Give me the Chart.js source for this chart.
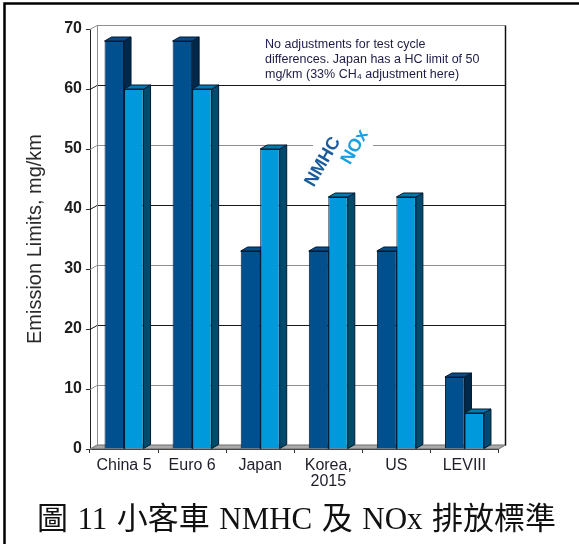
<!DOCTYPE html>
<html>
<head>
<meta charset="utf-8">
<script src="https://cdn.jsdelivr.net/npm/chart.js@4/dist/chart.umd.min.js"></script>
<style>
  html, body { margin: 0; padding: 0; background: #fff; }
  canvas { display: block; }
</style>
</head>
<body>
<canvas id="c" width="579" height="544"></canvas>
<script>
// Light-duty vehicle NMHC / NOx emission limits (mg/km)
const categories = ['China 5', 'Euro 6', 'Japan', ['Korea,', '2015'], 'US', 'LEVIII'];
const seriesNames = ['NMHC', 'NOx'];
const nmhcLimits = [68, 68, 33, 33, 33, 12];
const noxLimits = [60, 60, 50, 42, 42, 6];
const yTicks = [0, 10, 20, 30, 40, 50, 60, 70];
const axisTitle = 'Emission Limits, mg/km';
const noteLines = [
  'No adjustments for test cycle',
  'differences. Japan has a HC limit of 50',
  'mg/km (33% CH\u2084 adjustment here)'
];
const captionParts = ['圖', '11', '小客車', 'NMHC', '及', 'NOx', '排放標準'];

// face colours for the extruded columns: [front, top, side]
const faceColors = [
  ['#00508f', '#0a4a86', '#00284b'],
  ['#0099db', '#0078b4', '#004a6c']
];
const edgeColor = '#001a33';
const labelColors = ['#1d5c9c', '#1a9fe0'];

// depth of the 3-D box
const DX = 7, DY = -4;

const poly = (ctx, pts, fill, stroke) => {
  ctx.beginPath();
  ctx.moveTo(pts[0][0], pts[0][1]);
  for (let k = 1; k < pts.length; k++) ctx.lineTo(pts[k][0], pts[k][1]);
  ctx.closePath();
  ctx.fillStyle = fill;
  ctx.fill();
  if (stroke) { ctx.strokeStyle = stroke; ctx.lineWidth = 1; ctx.stroke(); }
};

const box3d = {
  id: 'box3d',
  beforeDatasetsDraw(chart) {
    const { ctx, chartArea: a, scales: { y } } = chart;
    ctx.save();
    // floor
    poly(ctx, [[a.left, a.bottom], [a.left + DX, a.bottom + DY], [a.right + DX, a.bottom + DY], [a.right, a.bottom]], '#a8a8a8', '#6a6a6a');
    // back wall grid lines and side wall diagonals
    yTicks.forEach(v => {
      const py = Math.round(y.getPixelForValue(v)) + 0.5;
      ctx.beginPath();
      ctx.moveTo(a.left, py);
      ctx.lineTo(a.left + DX, py + DY);
      ctx.lineTo(a.right + DX, py + DY);
      ctx.strokeStyle = (v % 20 === 0 && v > 0) ? '#1a1a1a' : '#8e8e8e';
      ctx.lineWidth = 1;
      ctx.stroke();
    });
    const yTop = Math.round(y.getPixelForValue(yTicks[yTicks.length - 1])) + 0.5 + DY;
    const yBot = Math.round(y.getPixelForValue(0)) + 0.5 + DY;
    ctx.beginPath();
    ctx.moveTo(a.left + DX + 0.5, yTop); ctx.lineTo(a.left + DX + 0.5, yBot);
    ctx.strokeStyle = '#8e8e8e'; ctx.stroke();
    ctx.beginPath();
    ctx.moveTo(a.right + DX, yTop); ctx.lineTo(a.right + DX, yBot);
    ctx.strokeStyle = '#111'; ctx.lineWidth = 1.5; ctx.stroke();

    // note text
    ctx.fillStyle = '#1c1c48';
    ctx.font = '12.5px "Liberation Sans", Arial, sans-serif';
    ctx.textAlign = 'left';
    ctx.textBaseline = 'alphabetic';
    noteLines.forEach((t, k) => ctx.fillText(t, 265, 48 + k * 15));

    // series labels, set on a white patch over the grid
    const y50 = Math.round(y.getPixelForValue(50)) + 0.5 + DY;
    ctx.fillStyle = '#fff';
    ctx.fillRect(313, y50 - 3, 60, 6);
    ctx.font = 'bold 18px "Liberation Sans", Arial, sans-serif';
    ctx.textAlign = 'center';
    ctx.textBaseline = 'middle';
    const spots = [[323, 162], [355, 147]];
    chart.data.datasets.forEach((ds, i) => {
      ctx.save();
      ctx.translate(spots[i][0], spots[i][1]);
      ctx.rotate(-60 * Math.PI / 180);
      ctx.fillStyle = labelColors[i];
      ctx.fillText(ds.label, 0, 0);
      ctx.restore();
    });

    // top and side faces of the columns, left to right
    const n = chart.data.labels.length;
    for (let j = 0; j < n; j++) {
      chart.data.datasets.forEach((ds, i) => {
        const el = chart.getDatasetMeta(i).data[j];
        const l = el.x - el.width / 2, r = el.x + el.width / 2, t = el.y, b = el.base;
        poly(ctx, [[r, t], [r + DX, t + DY], [r + DX, b + DY], [r, b]], faceColors[i][2], edgeColor);
        poly(ctx, [[l, t], [l + DX, t + DY], [r + DX, t + DY], [r, t]], faceColors[i][1], edgeColor);
      });
    }
    ctx.restore();
  },
  afterDraw(chart) {
    const { ctx } = chart;
    ctx.save();
    // caption
    ctx.font = '31px "Liberation Serif", "Noto Sans CJK TC", serif';
    ctx.fillStyle = '#111';
    ctx.textBaseline = 'middle';
    ctx.textAlign = 'left';
    const widths = captionParts.map(p => ctx.measureText(p).width);
    const total = widths.reduce((s, w) => s + w, 0);
    const x0 = 37, x1 = 556;
    const gap = (x1 - x0 - total) / (captionParts.length - 1);
    let cx = x0;
    captionParts.forEach((p, k) => { ctx.fillText(p, cx, 521); cx += widths[k] + gap; });
    // page frame
    ctx.strokeStyle = '#000';
    ctx.lineWidth = 2.5;
    ctx.beginPath();
    ctx.moveTo(579, 3.5); ctx.lineTo(4.5, 3.5); ctx.lineTo(4.5, 544);
    ctx.stroke();
    ctx.restore();
  }
};

Chart.defaults.font.family = '"Liberation Sans", Arial, sans-serif';

new Chart(document.getElementById('c'), {
  type: 'bar',
  data: {
    labels: categories,
    datasets: [
      { label: seriesNames[0], data: nmhcLimits, backgroundColor: faceColors[0][0], borderColor: edgeColor, borderWidth: 1 },
      { label: seriesNames[1], data: noxLimits, backgroundColor: faceColors[1][0], borderColor: edgeColor, borderWidth: 1 }
    ]
  },
  options: {
    responsive: false,
    devicePixelRatio: 1,
    animation: false,
    categoryPercentage: 0.573,
    barPercentage: 1.0,
    layout: { padding: { top: 29, right: 80.5, bottom: 0, left: 0 } },
    plugins: { legend: { display: false }, tooltip: { enabled: false } },
    scales: {
      x: {
        afterFit: s => { s.height = 95; },
        grid: { drawOnChartArea: false, drawTicks: true, tickLength: 4, offset: true, color: '#333' },
        border: { display: true, color: '#222', width: 1 },
        ticks: { padding: 5, color: '#1e1e2a', maxRotation: 0, autoSkip: false,
                 font: { size: 16, lineHeight: 1.0 } }
      },
      y: {
        min: 0, max: 70,
        afterBuildTicks: s => { s.ticks = yTicks.map(v => ({ value: v })); },
        afterFit: s => { s.width = 90; },
        grid: { drawOnChartArea: false, drawTicks: true, tickLength: 4, color: '#333' },
        border: { display: true, color: '#222', width: 1 },
        ticks: { padding: 4, color: '#1e1e1e', font: { size: 16, weight: 'bold' } },
        title: { display: true, text: axisTitle, color: '#2a2a2a', font: { size: 20 }, padding: { top: 23, bottom: 0 } }
      }
    }
  },
  plugins: [box3d]
});
</script>
</body>
</html>
